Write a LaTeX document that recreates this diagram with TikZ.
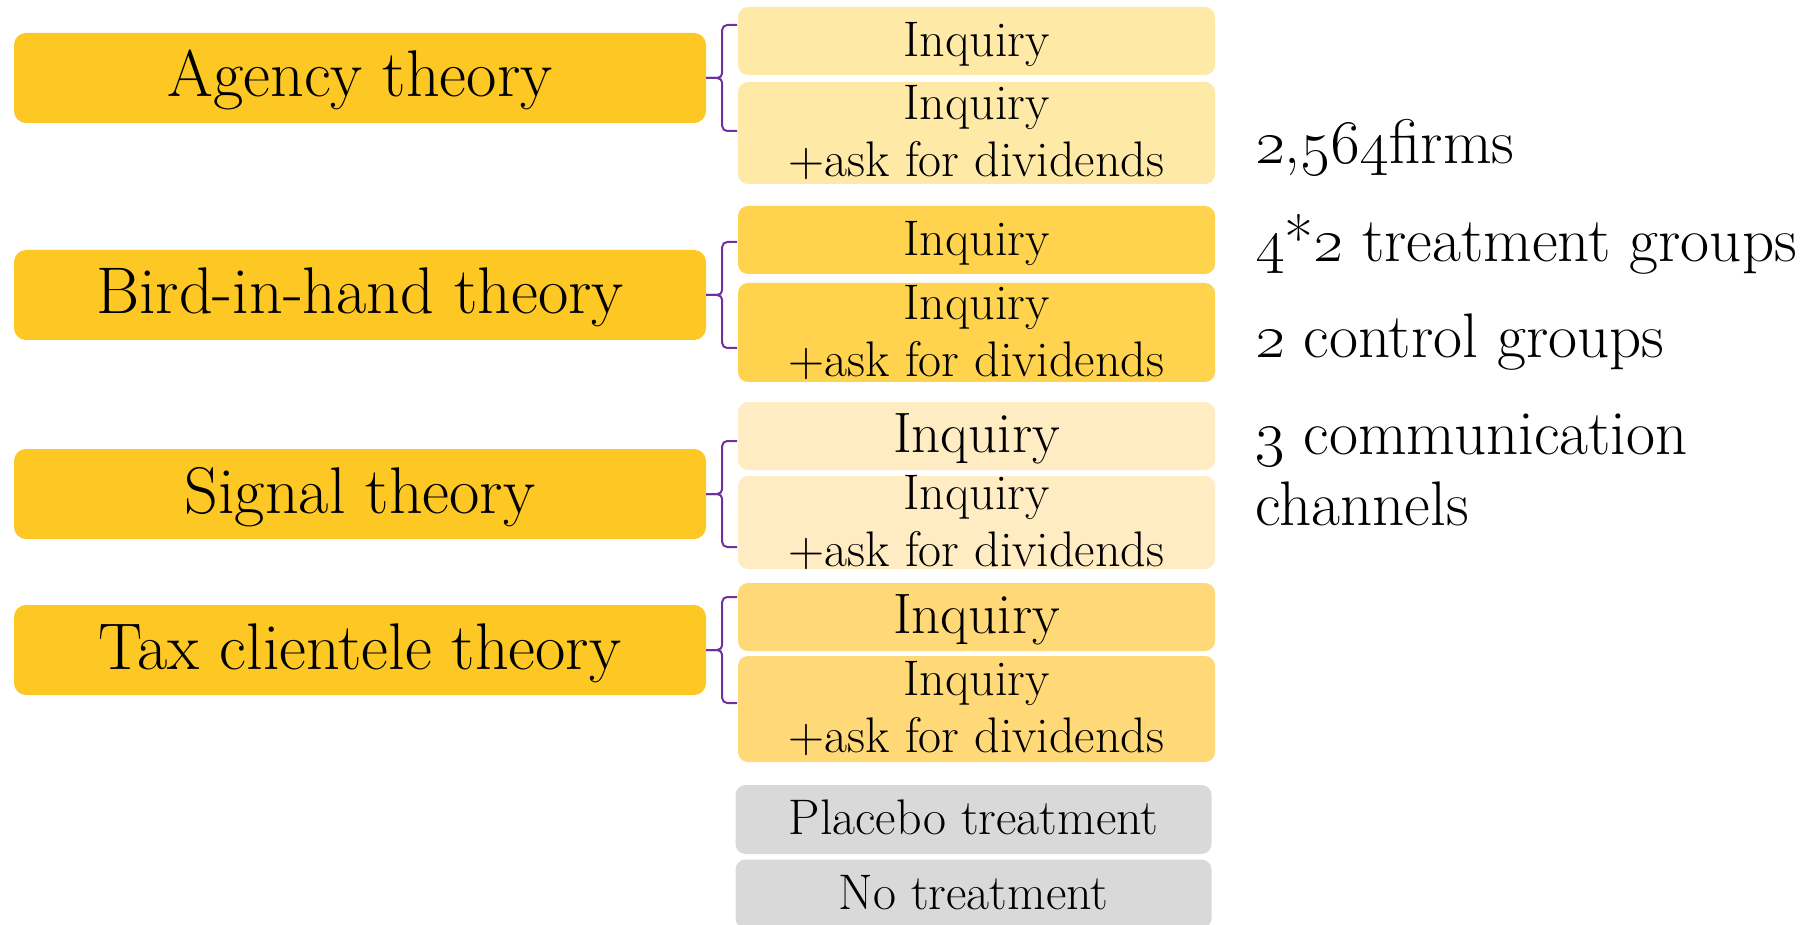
\RequirePackage{fix-cm}
\documentclass[tikz,border=0pt]{standalone}
\usepackage{graphicx}
\definecolor{theorycol}{HTML}{FDC724}
\definecolor{acol}{HTML}{FFE9A6}
\definecolor{bcol}{HTML}{FFD34D}
\definecolor{scol}{HTML}{FFECC2}
\definecolor{tcol}{HTML}{FFD978}
\definecolor{greycol}{HTML}{D9D9D9}
\definecolor{bracecol}{HTML}{7030A0}
\newcommand\dn[1]{\raisebox{\dimexpr-4pt-0.25em\relax}[0pt][0pt]{\begin{tabular}{@{}c@{}}#1\end{tabular}}}
\begin{document}
\begin{tikzpicture}[x=1pt,y=-1pt,
  theory/.style={fill=theorycol, rounded corners=12pt, minimum width=692pt, minimum height=90pt, inner sep=0pt, font=\fontsize{66}{75}\selectfont},
  sub/.style={rounded corners=10pt, minimum width=477pt, inner sep=0pt, font=\fontsize{50}{57}\selectfont},
  bigsub/.style={sub, font=\fontsize{57}{62}\selectfont},
  brace/.style={draw=bracecol, line width=2pt, rounded corners=5pt},
  info/.style={inner sep=0pt, align=left, font=\fontsize{63}{71}\selectfont}]
\useasboundingbox (0,0) rectangle (1816,925);
% theories
\node[theory] (agency) at (360,78) {\dn{Agency theory}};
\node[theory] (bird) at (360,295) {\dn{Bird-in-hand theory}};
\node[theory] (signal) at (360,494) {\dn{Signal theory}};
\node[theory] (tax) at (360,650) {\dn{Tax clientele theory}};
% treatments
\node[sub, fill=acol, minimum height=68pt] (a1) at (976.5,41) {\dn{Inquiry}};
\node[sub, fill=acol, minimum height=102pt] (a2) at (976.5,133) {\dn{Inquiry\\+ask for dividends}};
\node[sub, fill=bcol, minimum height=68pt] (b1) at (976.5,240) {\dn{Inquiry}};
\node[sub, fill=bcol, minimum height=99pt] (b2) at (976.5,332.5) {\dn{Inquiry\\+ask for dividends}};
\node[bigsub, fill=scol, minimum height=68pt] (s1) at (976.5,436) {\dn{Inquiry}};
\node[sub, fill=scol, minimum height=93pt] (s2) at (976.5,522.5) {\dn{Inquiry\\+ask for dividends}};
\node[bigsub, fill=tcol, minimum height=68pt] (t1) at (976.5,617) {\dn{Inquiry}};
\node[sub, fill=tcol, minimum height=106pt] (t2) at (976.5,709) {\dn{Inquiry\\+ask for dividends}};
\node[sub, fill=greycol, minimum width=476pt, minimum height=69pt] (pl) at (973.5,819.5) {\dn{Placebo treatment}};
\node[sub, fill=greycol, minimum width=476pt, minimum height=69pt] (no) at (973.5,894) {\dn{No treatment}};
% braces
\foreach \t in {agency,bird,signal,tax}{
  \draw[brace] (\t.east) -- ++(16,0) -- ++(0,-53) -- ++(15,0);
  \draw[brace] (\t.east) -- ++(16,0) -- ++(0,53) -- ++(15,0);
}
% info
\node[info, anchor=base west] (firms) at (1255,164) {\oldstylenums{2},\oldstylenums{564}firms};
\node[info, anchor=base west] (groups) at (1255,262) {\oldstylenums{4}*\oldstylenums{2} treatment groups};
\node[info, anchor=base west] (control) at (1255,358) {\oldstylenums{2} control groups};
\node[info, anchor=base west] (comm) at (1255,525) {\oldstylenums{3} communication\\channels};
\end{tikzpicture}
\end{document}
